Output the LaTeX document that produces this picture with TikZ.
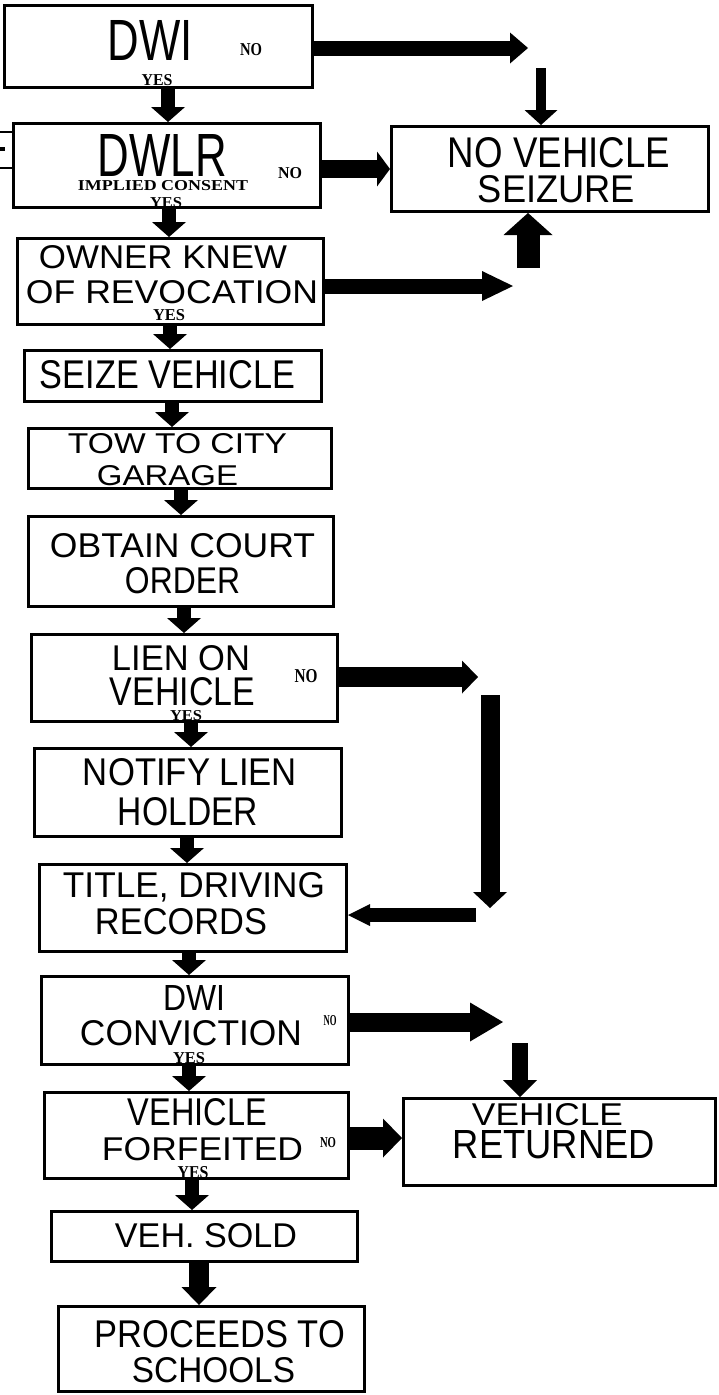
\documentclass[tikz,border=0pt]{standalone}
\usepackage{fontspec}
\setmainfont{Liberation Sans}
\newfontfamily\smallfont{Liberation Serif}
\usepackage{graphicx}
\usetikzlibrary{arrows.meta}
\newcommand{\fitT}[3]{\resizebox{#1pt}{#2pt}{#3}}
\begin{document}
\begin{tikzpicture}[x=1pt,y=-1pt,
  box/.style={draw, line width=3pt, inner sep=0pt},
  lbl/.style={anchor=base, inner sep=0pt},
  tiny/.style={anchor=base, inner sep=0pt, font=\smallfont\bfseries},
  arr/.style n args={3}{line width=#1pt, -{Triangle[width=#2pt,length=#3pt,line width=0pt]}},
  varr/.style={arr={14}{34}{15}}]
\useasboundingbox[fill=white] (0,0) rectangle (719,1395);

% boxes
\node[box, minimum width=308pt, minimum height=82pt] (dwi) at (158.5,46.5) {};
\node[box, minimum width=307pt, minimum height=84pt] (dwlr) at (167,165.5) {};
\node[box, minimum width=306pt, minimum height=86pt] (owner) at (170.5,281.5) {};
\node[box, minimum width=297pt, minimum height=51pt] (seize) at (173,376) {};
\node[box, minimum width=303pt, minimum height=60pt] (tow) at (180,458.5) {};
\node[box, minimum width=305pt, minimum height=90pt] (obtain) at (181,561.5) {};
\node[box, minimum width=306pt, minimum height=87pt] (lien) at (184.5,678) {};
\node[box, minimum width=307pt, minimum height=88pt] (notify) at (188,792.5) {};
\node[box, minimum width=307pt, minimum height=87pt] (title) at (193,908) {};
\node[box, minimum width=307pt, minimum height=88pt] (conv) at (195,1020.5) {};
\node[box, minimum width=304pt, minimum height=86pt] (forf) at (196.5,1135.5) {};
\node[box, minimum width=312pt, minimum height=87pt] (ret) at (559.5,1142) {};
\node[box, minimum width=306pt, minimum height=50pt] (sold) at (204.5,1236.5) {};
\node[box, minimum width=306pt, minimum height=85pt] (proc) at (211.5,1349) {};
\node[box, minimum width=317pt, minimum height=85pt] (nvs) at (550,169) {};

% main texts
\node[lbl] (tDwi) at (150.5,60) {\fitT{85}{40}{DWI}};
\node[lbl] (tDwlr) at (162.5,176) {\fitT{129}{42}{DWLR}};
\node[lbl] (tOwner1) at (163,268) {\fitT{248}{23}{OWNER KNEW}};
\node[lbl] (tOwner2) at (172,303) {\fitT{292}{23}{OF REVOCATION}};
\node[lbl] (tSeize) at (167.5,388) {\fitT{255}{28}{SEIZE VEHICLE}};
\node[lbl] (tTow1) at (177.5,453) {\fitT{219}{20}{TOW TO CITY}};
\node[lbl] (tTow2) at (167.5,485) {\fitT{141}{20}{GARAGE}};
\node[lbl] (tObt1) at (182.5,557) {\fitT{265}{24}{OBTAIN COURT}};
\node[lbl] (tObt2) at (182.5,593) {\fitT{115}{26}{ORDER}};
\node[lbl] (tLien1) at (181,670) {\fitT{138}{25}{LIEN ON}};
\node[lbl] (tLien2) at (182.5,705) {\fitT{145}{28}{VEHICLE}};
\node[lbl] (tNot1) at (190,785) {\fitT{214}{27}{NOTIFY LIEN}};
\node[lbl] (tNot2) at (188,825) {\fitT{140}{28}{HOLDER}};
\node[lbl] (tTit1) at (194,897) {\fitT{262}{25}{TITLE, DRIVING}};
\node[lbl] (tTit2) at (181,934) {\fitT{172}{26}{RECORDS}};
\node[lbl] (tConv1) at (194,1010) {\fitT{62}{25}{DWI}};
\node[lbl] (tConv2) at (191,1045) {\fitT{222}{25}{CONVICTION}};
\node[lbl] (tForf1) at (197.5,1125) {\fitT{139}{27}{VEHICLE}};
\node[lbl] (tForf2) at (202.5,1160) {\fitT{201}{23}{FORFEITED}};
\node[lbl] (tRet1) at (547.5,1125) {\fitT{151}{22}{VEHICLE}};
\node[lbl] (tRet2) at (554,1158) {\fitT{202}{28}{RETURNED}};
\node[lbl] (tSold) at (206,1247) {\fitT{182}{24}{VEH. SOLD}};
\node[lbl] (tProc1) at (220,1347) {\fitT{250}{27}{PROCEEDS TO}};
\node[lbl] (tProc2) at (213.5,1382) {\fitT{163}{25}{SCHOOLS}};
\node[lbl] (tNvs1) at (559,167) {\fitT{222}{30}{NO VEHICLE}};
\node[lbl] (tNvs2) at (556.5,202) {\fitT{157}{27}{SEIZURE}};

% small yes / no labels
\node[tiny] (nDwi) at (251,55) {\fitT{22}{12}{NO}};
\node[tiny] (yDwi) at (157,85) {\fitT{31}{11}{YES}};
\node[tiny] (nDwlr) at (290,178) {\fitT{24}{11}{NO}};
\node[tiny] (iDwlr) at (163,190) {\fitT{170}{10}{IMPLIED CONSENT}};
\node[tiny] (yDwlr) at (166,207) {\fitT{32}{10}{YES}};
\node[tiny] (yOwner) at (169,320) {\fitT{32}{11}{YES}};
\node[tiny] (nLien) at (306,682) {\fitT{23}{13}{NO}};
\node[tiny] (yLien) at (186,720) {\fitT{32}{10}{YES}};
\node[tiny] (nConv) at (330,1025) {\fitT{13}{10}{NO}};
\node[tiny] (yConv) at (189,1063) {\fitT{32}{11}{YES}};
\node[tiny] (nForf) at (328,1147) {\fitT{16}{10}{NO}};
\node[tiny] (yForf) at (193,1178) {\fitT{31}{12}{YES}};

% fragment at left edge
\draw[line width=2.5pt] (0,132) -- (12,132) (0,168) -- (12,168);
\draw[line width=4pt] (0,149) -- (5,149);

% vertical flow arrows
\foreach \a/\b/\x in {dwi/dwlr/168, dwlr/owner/169, owner/seize/170, seize/tow/172,
  tow/obtain/181, obtain/lien/184, lien/notify/191, notify/title/187,
  title/conv/189, conv/forf/189, forf/sold/192}
  {\draw[varr] (\x,0 |- \a.south) -- (\x,0 |- \b.north);}
\draw[arr={20}{35}{18}] (199,0 |- sold.south) -- (199,0 |- proc.north);

% NO branches
\coordinate (aTip) at (528,48);
\draw[arr={15}{31}{18}] (dwi.east |- aTip) -- (aTip);
\coordinate (bTop) at (541,68);
\draw[arr={10}{33}{15}] (bTop) -- (bTop |- nvs.north);
\coordinate (cY) at (0,169);
\draw[arr={18}{35}{13}] (dwlr.east |- cY) -- (nvs.west |- cY);
\coordinate (dTip) at (513,286);
\draw[arr={15}{30}{31}] (owner.east |- dTip) -- (dTip);
\coordinate (eBot) at (528,268);
\draw[arr={23}{49}{22}] (eBot) -- (eBot |- nvs.south);

\coordinate (gTip) at (478,677);
\draw[arr={20}{33}{16}] (lien.east |- gTip) -- (gTip);
\coordinate (gTop) at (490,695);
\coordinate (gBot) at (490,908);
\draw[arr={19}{34}{16}] (gTop) -- (gBot);
\coordinate (gL) at (476,915);
\draw[arr={14}{22}{22}] (gL) -- (title.east |- gL);

\coordinate (hTip) at (503,1022);
\draw[arr={19}{39}{33}] (conv.east |- hTip) -- (hTip);
\coordinate (hTop) at (520,1043);
\draw[arr={16}{34}{17}] (hTop) -- (hTop |- ret.north);
\coordinate (iY) at (0,1138);
\draw[arr={23}{39}{19}] (forf.east |- iY) -- (ret.west |- iY);
\end{tikzpicture}
\end{document}
